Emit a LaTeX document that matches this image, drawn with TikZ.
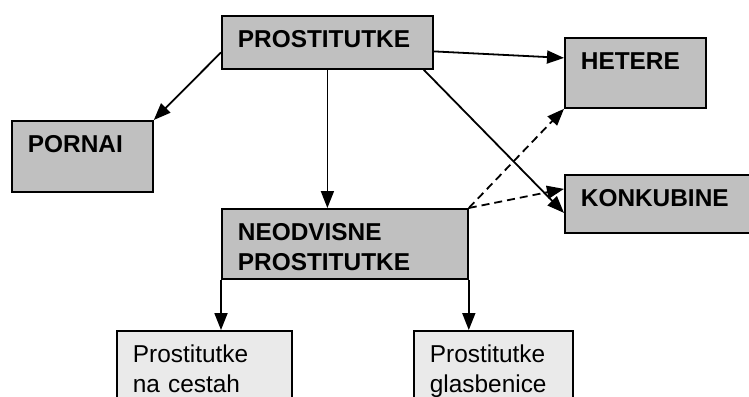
\documentclass[tikz,border=0pt]{standalone}
\usepackage{fontspec}
\setmainfont{Liberation Sans}
\usetikzlibrary{arrows.meta}
\definecolor{boxgray}{HTML}{C0C0C0}
\definecolor{boxlight}{HTML}{EAEAEA}
\tikzset{
  grp/.style={draw, line width=1.8pt, fill=boxgray, anchor=north west, align=left,
    inner xsep=16pt, inner ysep=0pt, text height=32pt,
    font=\fontsize{24.4}{30}\selectfont\bfseries},
  sub/.style={grp, fill=boxlight, font=\fontsize{24.4}{30}\selectfont},
  arr/.style={line width=1.8pt, -{Triangle[length=17pt,width=13pt]}},
  darr/.style={arr, dash pattern=on 8pt off 5pt}
}
\begin{document}
\begin{tikzpicture}[x=1pt,y=-1pt]
  \useasboundingbox (0,0) rectangle (749,396);
  \clip (0,0) rectangle (749,396);
  \node[grp, text width=179pt, text depth=21pt] (prost) at (221,15) {PROSTITUTKE};
  \node[grp, text width=109pt, text depth=39pt] (pornai) at (11,120) {PORNAI};
  \node[grp, text width=109pt, text depth=38pt] (hetere) at (564,37) {HETERE};
  \node[grp, text width=168pt, text depth=26pt] (konkubine) at (564,174) {KONKUBINE};
  \node[grp, text width=214pt, text depth=38pt] (neodvisne) at (221,208) {NEODVISNE\\PROSTITUTKE};
  \node[sub, text width=143pt, text depth=60pt] (cestah) at (116,330) {Prostitutke\\na cestah};
  \node[sub, text width=127pt, text depth=60pt] (glasbenice) at (413,330) {Prostitutke\\glasbenice};
  % puscice
  \draw[arr] ([yshift=-10pt]prost.west) -- (pornai.north east);
  \draw[arr] ([yshift=-9pt]prost.east) -- ([yshift=15pt]hetere.west);
  \draw[arr] ([xshift=-10pt]prost.south east) -- ([yshift=-9pt]konkubine.west);
  \draw[arr] (prost.south) -- (prost.south |- neodvisne.north);
  \draw[darr] (neodvisne.north east) -- (hetere.south west);
  \draw[darr] (neodvisne.north east) -- ([yshift=15pt]konkubine.west);
  \draw[arr] (neodvisne.south west) -- (neodvisne.south west |- cestah.north);
  \draw[arr] (neodvisne.south east) -- (neodvisne.south east |- glasbenice.north);
\end{tikzpicture}
\end{document}
